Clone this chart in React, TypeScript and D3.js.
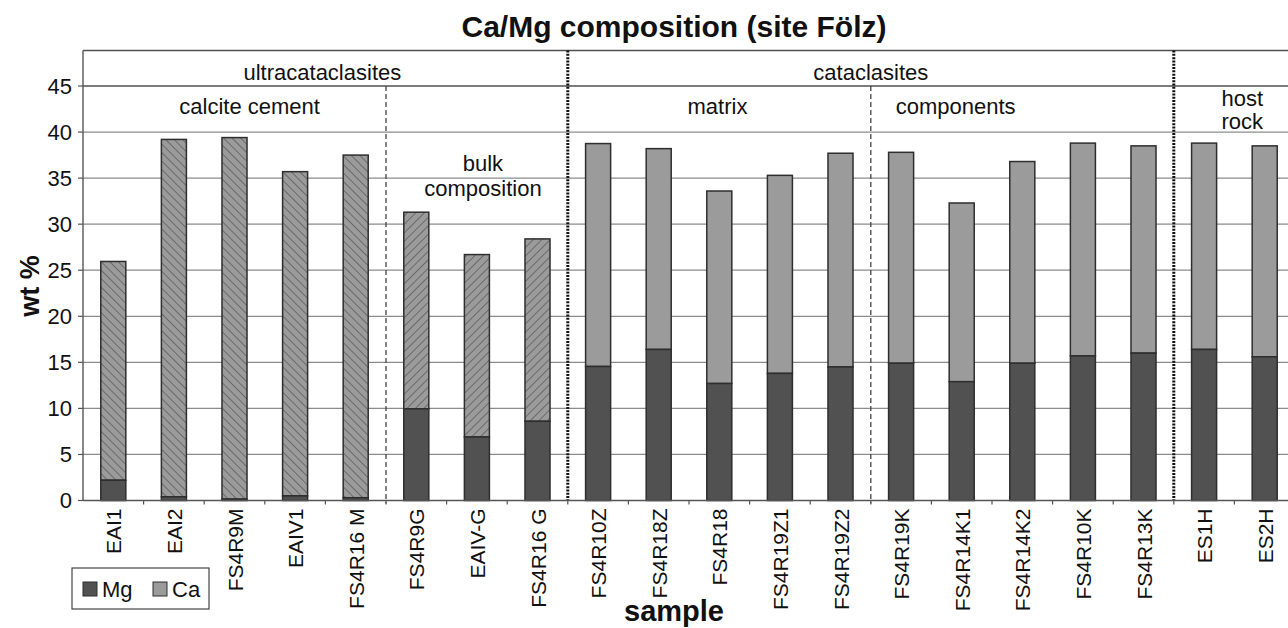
import React from "react";
import * as d3 from "d3";

const samples = ["EAI1","EAI2","FS4R9M","EAIV1","FS4R16 M","FS4R9G","EAIV-G","FS4R16 G","FS4R10Z","FS4R18Z","FS4R18","FS4R19Z1","FS4R19Z2","FS4R19K","FS4R14K1","FS4R14K2","FS4R10K","FS4R13K","ES1H","ES2H"];
const mgValues = [2.2,0.4,0.15,0.5,0.3,9.95,6.9,8.6,14.55,16.4,12.7,13.8,14.5,14.9,12.9,14.9,15.7,16.0,16.4,15.6];
const caValues = [23.75,38.8,39.25,35.2,37.2,21.35,19.8,19.8,24.2,21.8,20.9,21.5,23.2,22.9,19.4,21.9,23.1,22.5,22.4,22.9];
const caPattern = ["back","back","back","back","back","fwd","fwd","fwd","solid","solid","solid","solid","solid","solid","solid","solid","solid","solid","solid","solid"];
const yTicks = [0,5,10,15,20,25,30,35,40,45];
const dottedAfter = [8, 18];
const dashedAfter = [5, 13];
// group labels: text lines, centre (in band steps), value of line centre
const topLabels = [
  { lines: ["ultracataclasites"], at: 3.95, v: [46.5] },
  { lines: ["cataclasites"], at: 13.0, v: [46.5] },
];
const subLabels = [
  { lines: ["calcite cement"], at: 2.75, v: [42.8] },
  { lines: ["bulk", "composition"], at: 6.6, v: [36.6, 33.9] },
  { lines: ["matrix"], at: 10.47, v: [42.8] },
  { lines: ["components"], at: 14.4, v: [42.8] },
  { lines: ["host", "rock"], at: 19.13, v: [43.7, 41.2] },
];

const W = 1288, H = 628;
const x0 = 83, x1 = 1295;
const FONT = "'Liberation Sans', Arial, Helvetica, sans-serif";

export default function App() {
  const x = d3.scaleBand<string>().domain(samples).range([x0, x1]).paddingInner(0.587).paddingOuter(0.2935);
  const y = d3.scaleLinear().domain([0, 45]).range([500.5, 86]);
  const step = x.step();
  const bx = (k: number) => x0 + k * step;
  const yTop = y(48.85);
  const yBase = y(0);
  const mgCol = "#515151", caCol = "#9b9b9b", edge = "#2e2e2e";

  return (
    <svg width={W} height={H} style={{ position: "absolute", left: 0, top: 0, background: "#fff" }} fontFamily={FONT}>
      <defs>
        <pattern id="back" patternUnits="userSpaceOnUse" width="6" height="6" patternTransform="rotate(-45)">
          <rect width="6" height="6" fill={caCol} />
          <line x1="0" y1="0" x2="0" y2="6" stroke="#3a3a3a" strokeWidth="1" />
        </pattern>
        <pattern id="fwd" patternUnits="userSpaceOnUse" width="6" height="6" patternTransform="rotate(45)">
          <rect width="6" height="6" fill={caCol} />
          <line x1="0" y1="0" x2="0" y2="6" stroke="#3a3a3a" strokeWidth="1" />
        </pattern>
      </defs>
      <rect width={W} height={H} fill="#fff" />
      <text x={674} y={37} textAnchor="middle" fontWeight="bold" fontSize={30} fill="#111">Ca/Mg composition (site Fölz)</text>

      {/* grid lines */}
      {yTicks.filter(t => t > 0 && t < 45).map(t => (
        <line key={t} x1={x0} x2={W} y1={y(t)} y2={y(t)} stroke="#8c8c8c" strokeWidth={1.2} />
      ))}
      <line x1={x0} x2={W} y1={y(45)} y2={y(45)} stroke="#505050" strokeWidth={1.4} />
      <line x1={x0} x2={W} y1={yTop} y2={yTop} stroke="#505050" strokeWidth={1.4} />

      {/* bars */}
      {samples.map((s, i) => {
        const bxs = x(s)!;
        const bw = x.bandwidth();
        const mgTop = y(mgValues[i]);
        const caTop = y(mgValues[i] + caValues[i]);
        const fill = caPattern[i] === "solid" ? caCol : `url(#${caPattern[i]})`;
        return (
          <g key={s}>
            <rect x={bxs} y={caTop} width={bw} height={mgTop - caTop} fill={fill} stroke={edge} strokeWidth={1.5} />
            <rect x={bxs} y={mgTop} width={bw} height={yBase - mgTop} fill={mgCol} stroke={edge} strokeWidth={1.5} />
          </g>
        );
      })}

      {/* separators */}
      {dottedAfter.map(k => (
        <line key={"d" + k} x1={bx(k)} x2={bx(k)} y1={yTop} y2={yBase} stroke="#111" strokeWidth={3} strokeDasharray="2 1.3" />
      ))}
      {dashedAfter.map(k => (
        <line key={"s" + k} x1={bx(k)} x2={bx(k)} y1={y(45)} y2={yBase + 3} stroke="#444" strokeWidth={1.3} strokeDasharray="5 3" />
      ))}

      {/* axes */}
      <line x1={x0} x2={x0} y1={yTop} y2={yBase} stroke="#555" strokeWidth={1.4} />
      <line x1={x0} x2={W} y1={yBase} y2={yBase} stroke="#555" strokeWidth={1.4} />
      {yTicks.map(t => (
        <g key={"yt" + t}>
          <line x1={x0 - 5} x2={x0} y1={y(t)} y2={y(t)} stroke="#555" strokeWidth={1.2} />
          <text x={72} y={y(t)} dy="0.36em" textAnchor="end" fontSize={22} fill="#111">{t}</text>
        </g>
      ))}
      {d3.range(1, samples.length + 1).map(k => (
        <line key={"xt" + k} x1={bx(k)} x2={bx(k)} y1={yBase} y2={yBase + 4} stroke="#555" strokeWidth={1.2} />
      ))}
      {samples.map(s => {
        const cx = x(s)! + x.bandwidth() / 2;
        return (
          <text key={"xl" + s} transform={`translate(${cx + 8},${yBase + 8}) rotate(-90)`} textAnchor="end" fontSize={21} fill="#111">{s}</text>
        );
      })}

      {/* group labels */}
      {[...topLabels, ...subLabels].map(g => g.lines.map((ln, j) => (
        <text key={ln} x={bx(g.at)} y={y(g.v[j])} dy="0.35em" textAnchor="middle" fontSize={22} fill="#111">{ln}</text>
      )))}

      {/* axis titles */}
      <text transform={`translate(39,${286}) rotate(-90)`} textAnchor="middle" fontWeight="bold" fontSize={27} fill="#111">wt %</text>
      <text x={674} y={621} textAnchor="middle" fontWeight="bold" fontSize={29} fill="#111">sample</text>

      {/* legend */}
      <rect x={72} y={568} width={137} height={41} fill="#fff" stroke="#444" strokeWidth={1.2} />
      <rect x={83} y={582} width={14} height={14} fill={mgCol} stroke={edge} strokeWidth={1} />
      <text x={102} y={589} dy="0.36em" fontSize={22} fill="#111">Mg</text>
      <rect x={153} y={582} width={14} height={14} fill={caCol} stroke={edge} strokeWidth={1} />
      <text x={172} y={589} dy="0.36em" fontSize={22} fill="#111">Ca</text>
    </svg>
  );
}
